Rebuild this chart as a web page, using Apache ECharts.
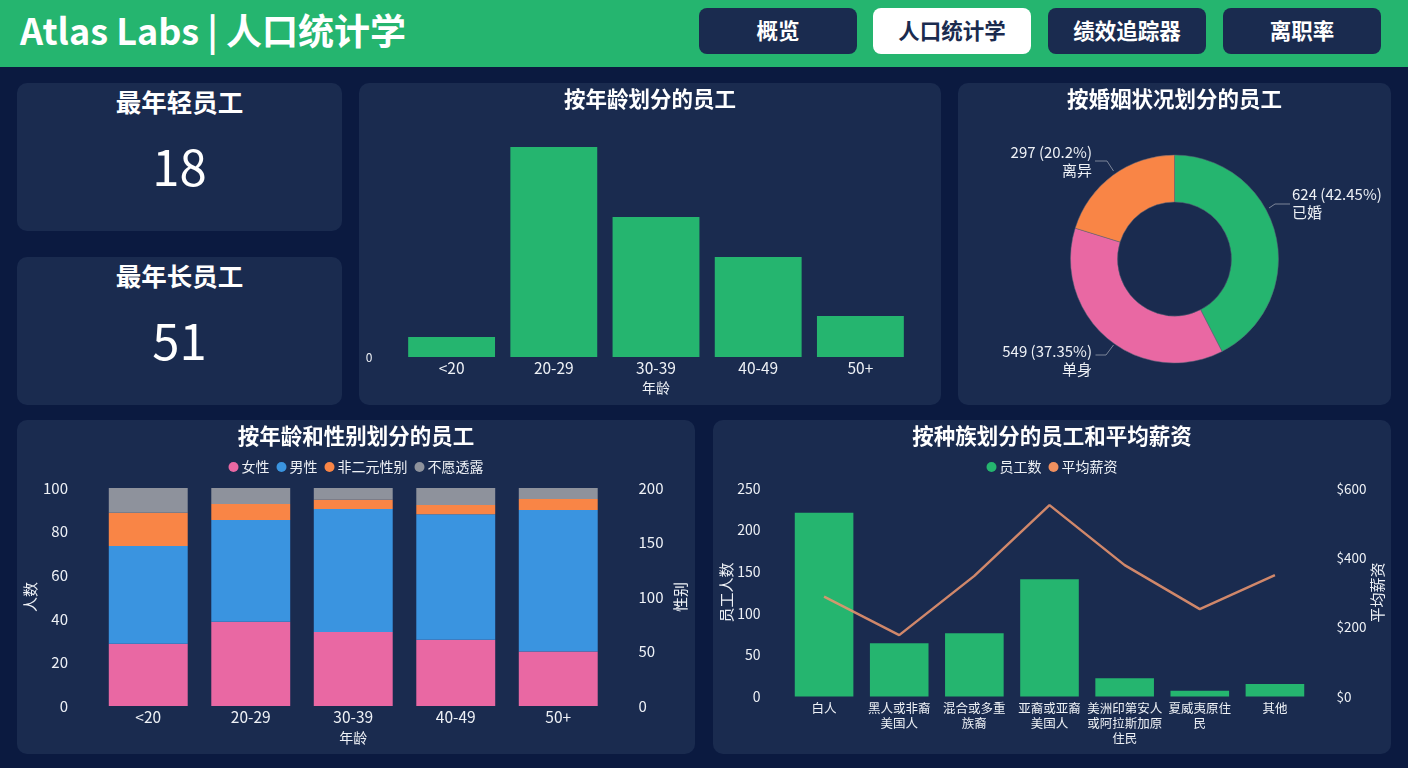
<!DOCTYPE html>
<html lang="zh-CN">
<head>
<meta charset="UTF-8">
<title>Atlas Labs | 人口统计学</title>
<style>
	html, body { margin: 0; padding: 0; width: 1408px; height: 768px; overflow: hidden; background: #0b1a40; color: #fff; font-family: "Noto Sans CJK SC", sans-serif; }
	.header { position: absolute; left: 0; top: 0; width: 1408px; height: 67px; background: #25b56f; }
	.logo { position: absolute; left: 20px; top: 5px; font-size: 36px; line-height: 48px; font-weight: 700; white-space: nowrap; }
	.btn { position: absolute; top: 8px; width: 158px; height: 46px; line-height: 43px; border-radius: 8px; background: #1a2b4f; text-align: center; font-size: 21.5px; font-weight: 700; }
	.btn.on { background: #fff; color: #1a2b4f; }
	.card { position: absolute; background: #1a2b4f; border-radius: 10px; }
	.stat-title { position: absolute; left: 0; right: 0; top: 0; text-align: center; font-size: 25.5px; line-height: 36px; font-weight: 700; }
	.stat-value { position: absolute; left: 0; right: 0; top: 46px; text-align: center; font-size: 49px; line-height: 72px; font-weight: 400; }
</style>
</head>
<body>
<div class="header">
	<div class="logo">Atlas Labs | 人口统计学</div>
	<div class="btn" style="left:699px">概览</div>
	<div class="btn on" style="left:873px">人口统计学</div>
	<div class="btn" style="left:1048px">绩效追踪器</div>
	<div class="btn" style="left:1223px">离职率</div>
</div>

<div class="card" style="left:17px;top:83px;width:325px;height:148px">
	<div class="stat-title">最年轻员工</div>
	<div class="stat-value">18</div>
</div>
<div class="card" style="left:17px;top:257px;width:325px;height:148px">
	<div class="stat-title">最年长员工</div>
	<div class="stat-value">51</div>
</div>

<div class="card" id="ageChart" style="left:359px;top:83px;width:582px;height:322px"></div>
<div class="card" id="maritalChart" style="left:958px;top:83px;width:433px;height:322px"></div>
<div class="card" id="genderChart" style="left:17px;top:420px;width:678px;height:334px"></div>
<div class="card" id="raceChart" style="left:713px;top:420px;width:678px;height:334px"></div>

<script src="https://cdn.jsdelivr.net/npm/echarts@6/dist/echarts.min.js"></script>
<script>
var ageGroups = ['<20', '20-29', '30-39', '40-49', '50+'];
var ageCounts = [57, 600, 400, 286, 117];

var maritalNames = ['已婚', '单身', '离异'];
var maritalCounts = [624, 549, 297];

var genderNames = ['女性', '男性', '非二元性别', '不愿透露'];
var femaleShare = [28.5, 38.7, 34, 30.4, 25];
var maleShare = [44.9, 46.6, 56.4, 57.6, 64.9];
var nonBinaryShare = [15.3, 7.4, 4.2, 4.2, 5.1];
var undisclosedShare = [11.3, 7.3, 5.4, 7.8, 5];

var raceNames = ['白人', '黑人或非裔\n美国人', '混合或多重\n族裔', '亚裔或亚裔\n美国人', '美洲印第安人\n或阿拉斯加原\n住民', '夏威夷原住\n民', '其他'];
var raceCounts = [221, 64, 76, 141, 22, 7, 15];
var raceSalary = [288, 177, 348, 552, 379, 252, 350];

var GREEN = '#25b56f', PINK = '#e968a3', BLUE = '#3a94e0', ORANGE = '#f98546', GREY = '#8e929c';
var TEXT = '#eef1f6';
var FONT = '"Noto Sans CJK SC", sans-serif';

function cardTitle(text) {
	return { text: text, left: 'center', top: 0, textStyle: { color: '#fff', fontSize: 21.5, fontWeight: 'bold', fontFamily: FONT } };
}
function xAxisOf(data, name, nameGap, fontSize, margin) {
	return {
		type: 'category', data: data, name: name, nameLocation: 'middle', nameGap: nameGap,
		nameTextStyle: { color: TEXT, fontSize: 14, fontFamily: FONT },
		axisLine: { show: false }, axisTick: { show: false },
		axisLabel: { color: TEXT, fontSize: fontSize, margin: margin, interval: 0, lineHeight: 15, fontFamily: FONT }
	};
}
function yAxisOf(max, interval, name, nameGap, margin, right, fontSize, fmt) {
	return {
		type: 'value', min: 0, max: max, interval: interval,
		name: name, nameLocation: 'middle', nameGap: nameGap, nameRotate: 90, nameMoveOverlap: false,
		nameTextStyle: { color: TEXT, fontSize: 15, fontFamily: FONT },
		position: right ? 'right' : 'left',
		axisLine: { show: false }, axisTick: { show: false }, splitLine: { show: false },
		axisLabel: { color: TEXT, fontSize: fontSize, margin: margin, fontFamily: FONT, formatter: fmt }
	};
}
function legendOf(names) {
	return {
		data: names, top: 35, left: 'center', icon: 'circle', itemWidth: 10, itemHeight: 10, itemGap: 7,
		textStyle: { color: TEXT, fontSize: 14, fontFamily: FONT, padding: [0, 0, 0, -2] }
	};
}

// 按年龄
echarts.init(document.getElementById('ageChart')).setOption({
	animation: false,
	title: cardTitle('按年龄划分的员工'),
	grid: { left: 41.5, width: 511, top: 29, height: 245, outerBoundsMode: 'none' },
	xAxis: xAxisOf(ageGroups, '年龄', 24, 15.5, 4),
	yAxis: {
		type: 'value', min: 0, max: 700, interval: 700,
		axisLine: { show: false }, axisTick: { show: false }, splitLine: { show: false },
		axisLabel: { color: TEXT, fontSize: 12, margin: 28, fontFamily: FONT, formatter: function (v) { return v === 0 ? '0' : ''; } }
	},
	series: [{ type: 'bar', data: ageCounts, barCategoryGap: '15%', itemStyle: { color: GREEN } }]
});

// 按婚姻状况，引线位置按卡片内坐标
var maritalLabelLayout = [
	{ x: 334, y: 120.5, align: 'left', verticalAlign: 'middle', labelLinePoints: [[311, 125], [317, 121], [332, 121]] },
	{ x: 134, y: 277.5, align: 'right', verticalAlign: 'middle', labelLinePoints: [[155.5, 262], [148, 272], [137.5, 272]] },
	{ x: 134, y: 78, align: 'right', verticalAlign: 'middle', labelLinePoints: [[155.5, 88], [149, 78], [137, 78]] }
];
echarts.init(document.getElementById('maritalChart')).setOption({
	animation: false,
	title: cardTitle('按婚姻状况划分的员工'),
	series: [{
		type: 'pie', center: [216.5, 176], radius: [57, 104], startAngle: 90, clockwise: true, percentPrecision: 2,
		data: maritalNames.map(function (n, i) { return { name: n, value: maritalCounts[i] }; }),
		color: [GREEN, PINK, ORANGE],
		itemStyle: { borderColor: '#5a6478', borderWidth: 0.5 },
		label: { color: TEXT, fontSize: 15, lineHeight: 18, fontFamily: FONT, overflow: 'none', formatter: '{c} ({d}%)\n{b}' },
		labelLine: { length: 12, length2: 12, lineStyle: { color: '#7d8699', width: 1 } },
		labelLayout: function (params) { return maritalLabelLayout[params.dataIndex]; }
	}]
});

// 按年龄和性别
var genderValues = [femaleShare, maleShare, nonBinaryShare, undisclosedShare];
var genderColors = [PINK, BLUE, ORANGE, GREY];
echarts.init(document.getElementById('genderChart')).setOption({
	animation: false,
	title: cardTitle('按年龄和性别划分的员工'),
	legend: legendOf(genderNames),
	grid: { left: 80, width: 512.5, top: 68, height: 218, outerBoundsMode: 'none' },
	xAxis: xAxisOf(ageGroups, '年龄', 25, 15.5, 4),
	yAxis: [
		yAxisOf(100, 20, '人数', 59, 29, false, 15),
		yAxisOf(200, 50, '性别', 63, 29, true, 15)
	],
	series: genderNames.map(function (n, i) {
		return { name: n, type: 'bar', stack: 'age', data: genderValues[i], barCategoryGap: '23%', itemStyle: { color: genderColors[i] } };
	})
});

// 按种族
echarts.init(document.getElementById('raceChart')).setOption({
	animation: false,
	title: cardTitle('按种族划分的员工和平均薪资'),
	legend: legendOf(['员工数', '平均薪资']),
	grid: { left: 73.5, width: 526, top: 68.5, height: 208, outerBoundsMode: 'none' },
	xAxis: xAxisOf(raceNames, '', 0, 12.5, 4),
	yAxis: [
		yAxisOf(250, 50, '员工人数', 53, 26, false, 14),
		yAxisOf(600, 200, '平均薪资', 57, 24, true, 13.5, function (v) { return '$' + v; })
	],
	series: [
		{ name: '员工数', type: 'bar', data: raceCounts, barCategoryGap: '22%', itemStyle: { color: GREEN } },
		{ name: '平均薪资', type: 'line', yAxisIndex: 1, data: raceSalary, symbol: 'none', itemStyle: { color: '#f0905f' }, lineStyle: { color: '#e9946e', width: 2.5, opacity: 0.88 } }
	]
});
</script>
</body>
</html>
